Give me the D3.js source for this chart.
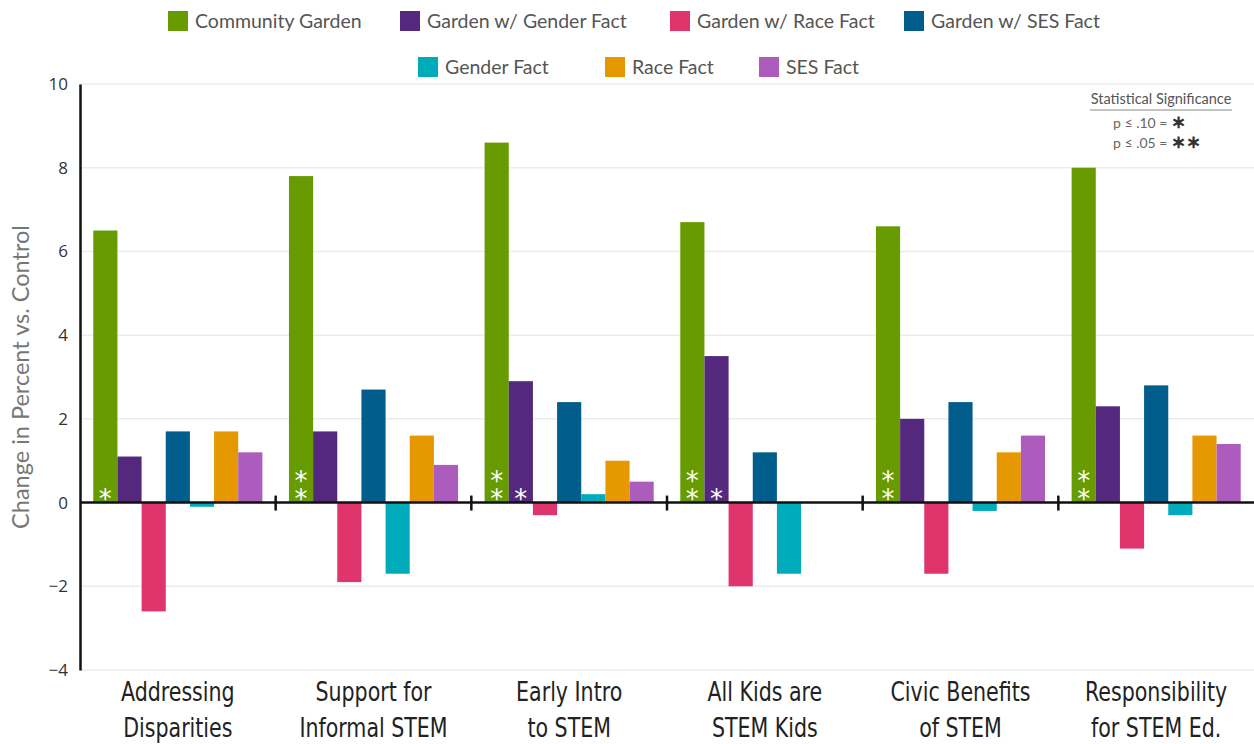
<!DOCTYPE html>
<meta charset="utf-8">
<style>
  body { margin: 0; background: #fff; }
  svg { display: block; font-family: Lato, "Open Sans", sans-serif; }
  .grid line { stroke: #ececec; stroke-width: 1.5px; }
  .cat text { font-family: "DejaVu Sans Condensed", "DejaVu Sans", sans-serif; fill: #222; }
</style>
<body>
<svg width="1254" height="744"></svg>
<script src="https://d3js.org/d3.v7.min.js"></script>
<script>
  var categories = [
    ["Addressing", "Disparities"],
    ["Support for", "Informal STEM"],
    ["Early Intro", "to STEM"],
    ["All Kids are", "STEM Kids"],
    ["Civic Benefits", "of STEM"],
    ["Responsibility", "for STEM Ed."]
  ];
  var seriesNames = ["Community Garden", "Garden w/ Gender Fact", "Garden w/ Race Fact",
    "Garden w/ SES Fact", "Gender Fact", "Race Fact", "SES Fact"];
  var seriesColors = ["#679b00", "#54297d", "#df356c", "#005d8c", "#00abbb", "#e69800", "#ac5cbd"];

  var communityGarden = [6.5, 7.8, 8.6, 6.7, 6.6, 8.0];
  var gardenGender = [1.1, 1.7, 2.9, 3.5, 2.0, 2.3];
  var gardenRace = [-2.6, -1.9, -0.3, -2.0, -1.7, -1.1];
  var gardenSES = [1.7, 2.7, 2.4, 1.2, 2.4, 2.8];
  var genderFact = [-0.1, -1.7, 0.2, -1.7, -0.2, -0.3];
  var raceFact = [1.7, 1.6, 1.0, 0, 1.2, 1.6];
  var sesFact = [1.2, 0.9, 0.5, 0, 1.6, 1.4];
  var seriesValues = [communityGarden, gardenGender, gardenRace, gardenSES, genderFact, raceFact, sesFact];

  // significance stars: [category index, series index, count]
  var stars = [[0, 0, 1], [1, 0, 2], [2, 0, 2], [2, 1, 1], [3, 0, 2], [3, 1, 1], [4, 0, 2], [5, 0, 2]];

  var yTicks = [10, 8, 6, 4, 2, 0, -2, -4];

  var svg = d3.select("svg");
  var mLeft = 80, mRight = 1254, mTop = 84, mBottom = 670;

  var x0 = d3.scaleBand().domain(d3.range(categories.length)).range([mLeft, mRight]);
  var x1 = d3.scaleBand().domain(d3.range(seriesNames.length))
    .range([0, x0.bandwidth()]).paddingInner(0).paddingOuter(0.55);
  var y = d3.scaleLinear().domain([-4, 10]).range([mBottom, mTop]);

  // gridlines
  svg.append("g").attr("class", "grid")
    .selectAll("line").data(yTicks.filter(function(d) { return d !== 0; }))
    .enter().append("line")
    .attr("x1", mLeft).attr("x2", mRight)
    .attr("y1", function(d) { return y(d); }).attr("y2", function(d) { return y(d); });

  // bars
  var rows = [];
  categories.forEach(function(c, i) {
    seriesValues.forEach(function(s, j) { rows.push({ cat: i, ser: j, v: s[i] }); });
  });
  svg.append("g").selectAll("rect").data(rows).enter().append("rect")
    .attr("x", function(d) { return x0(d.cat) + x1(d.ser); })
    .attr("width", x1.bandwidth())
    .attr("y", function(d) { return y(Math.max(0, d.v)); })
    .attr("height", function(d) { return Math.abs(y(d.v) - y(0)); })
    .attr("fill", function(d) { return seriesColors[d.ser]; });

  // stars, one text per bar, stacked with tspans
  var st = svg.append("g").selectAll("text").data(stars).enter().append("text")
    .attr("text-anchor", "middle")
    .attr("font-size", 26)
    .attr("font-family", "DejaVu Sans")
    .attr("fill", "#fff");
  st.selectAll("tspan").data(function(s) {
    return d3.range(s[2]).map(function(k) { return { cat: s[0], ser: s[1], k: k, n: s[2] }; });
  }).enter().append("tspan")
    .attr("x", function(d) { return x0(d.cat) + x1(d.ser) + x1.bandwidth() / 2; })
    .attr("y", function(d) { return y(0) + 5 - (d.n - 1 - d.k) * 18; })
    .text("*");

  // y axis
  var yAxis = svg.append("g").attr("transform", "translate(" + mLeft + ",0)")
    .call(d3.axisLeft(y).tickValues(yTicks).tickSize(0).tickPadding(12));
  yAxis.select(".domain").attr("stroke", "#111").attr("stroke-width", 2.5);
  yAxis.selectAll("text").attr("font-size", 17).attr("fill", "#333")
    .attr("font-family", "\"Open Sans\", sans-serif");

  // zero line with ticks at category boundaries
  var zx = svg.append("g").attr("transform", "translate(0," + y(0) + ")");
  zx.append("line").attr("x1", mLeft).attr("x2", mRight).attr("stroke", "#111").attr("stroke-width", 2.5);
  zx.selectAll(".tk").data(d3.range(1, categories.length)).enter().append("line")
    .attr("x1", function(d) { return x0(d); }).attr("x2", function(d) { return x0(d); })
    .attr("y1", -7).attr("y2", 8).attr("stroke", "#111").attr("stroke-width", 2.5);

  // category labels (squeezed to mimic a condensed face)
  var cat = svg.append("g").attr("class", "cat").selectAll("text").data(categories).enter().append("text")
    .attr("transform", function(d, i) {
      return "translate(" + (x0(i) + x0.bandwidth() / 2) + ",701) scale(0.88,1)";
    })
    .attr("text-anchor", "middle")
    .attr("font-size", 26);
  cat.selectAll("tspan").data(function(d) { return d; }).enter().append("tspan")
    .attr("x", 0)
    .attr("y", function(d, i) { return i * 36; })
    .text(function(d) { return d; });

  // y title
  svg.append("text")
    .attr("transform", "translate(29," + y(3) + ") rotate(-90)")
    .attr("text-anchor", "middle")
    .attr("font-size", 23.5)
    .attr("fill", "#777")
    .text("Change in Percent vs. Control");

  // legend
  var legendPos = [[168, 21], [400, 21], [670, 21], [904, 21], [418, 67], [605, 67], [759, 67]];
  var lg = svg.append("g").selectAll("g").data(seriesNames).enter().append("g")
    .attr("transform", function(d, i) { return "translate(" + legendPos[i][0] + "," + legendPos[i][1] + ")"; });
  lg.append("rect").attr("x", 0).attr("y", -10).attr("width", 20).attr("height", 20)
    .attr("fill", function(d, i) { return seriesColors[i]; });
  lg.append("text").attr("x", 27).attr("y", 7).attr("font-size", 19.5).attr("fill", "#555")
    .text(function(d) { return d; });

  // significance note
  var note = svg.append("g").attr("transform", "translate(1161,0)");
  note.append("text").attr("y", 104).attr("text-anchor", "middle").attr("font-size", 14.5).attr("fill", "#555")
    .text("Statistical Significance");
  note.append("line").attr("x1", -71).attr("x2", 71).attr("y1", 110).attr("y2", 110)
    .attr("stroke", "#888").attr("stroke-width", 1.2);
  note.append("text").attr("x", -48).attr("y", 128).attr("font-size", 14).attr("fill", "#666")
    .text("p ≤ .10 = ").append("tspan").attr("font-size", 18).attr("fill", "#333").attr("font-weight", "bold").text("∗");
  note.append("text").attr("x", -48).attr("y", 148).attr("font-size", 14).attr("fill", "#666")
    .text("p ≤ .05 = ").append("tspan").attr("font-size", 18).attr("fill", "#333").attr("font-weight", "bold").text("∗∗");
</script>
</body>
